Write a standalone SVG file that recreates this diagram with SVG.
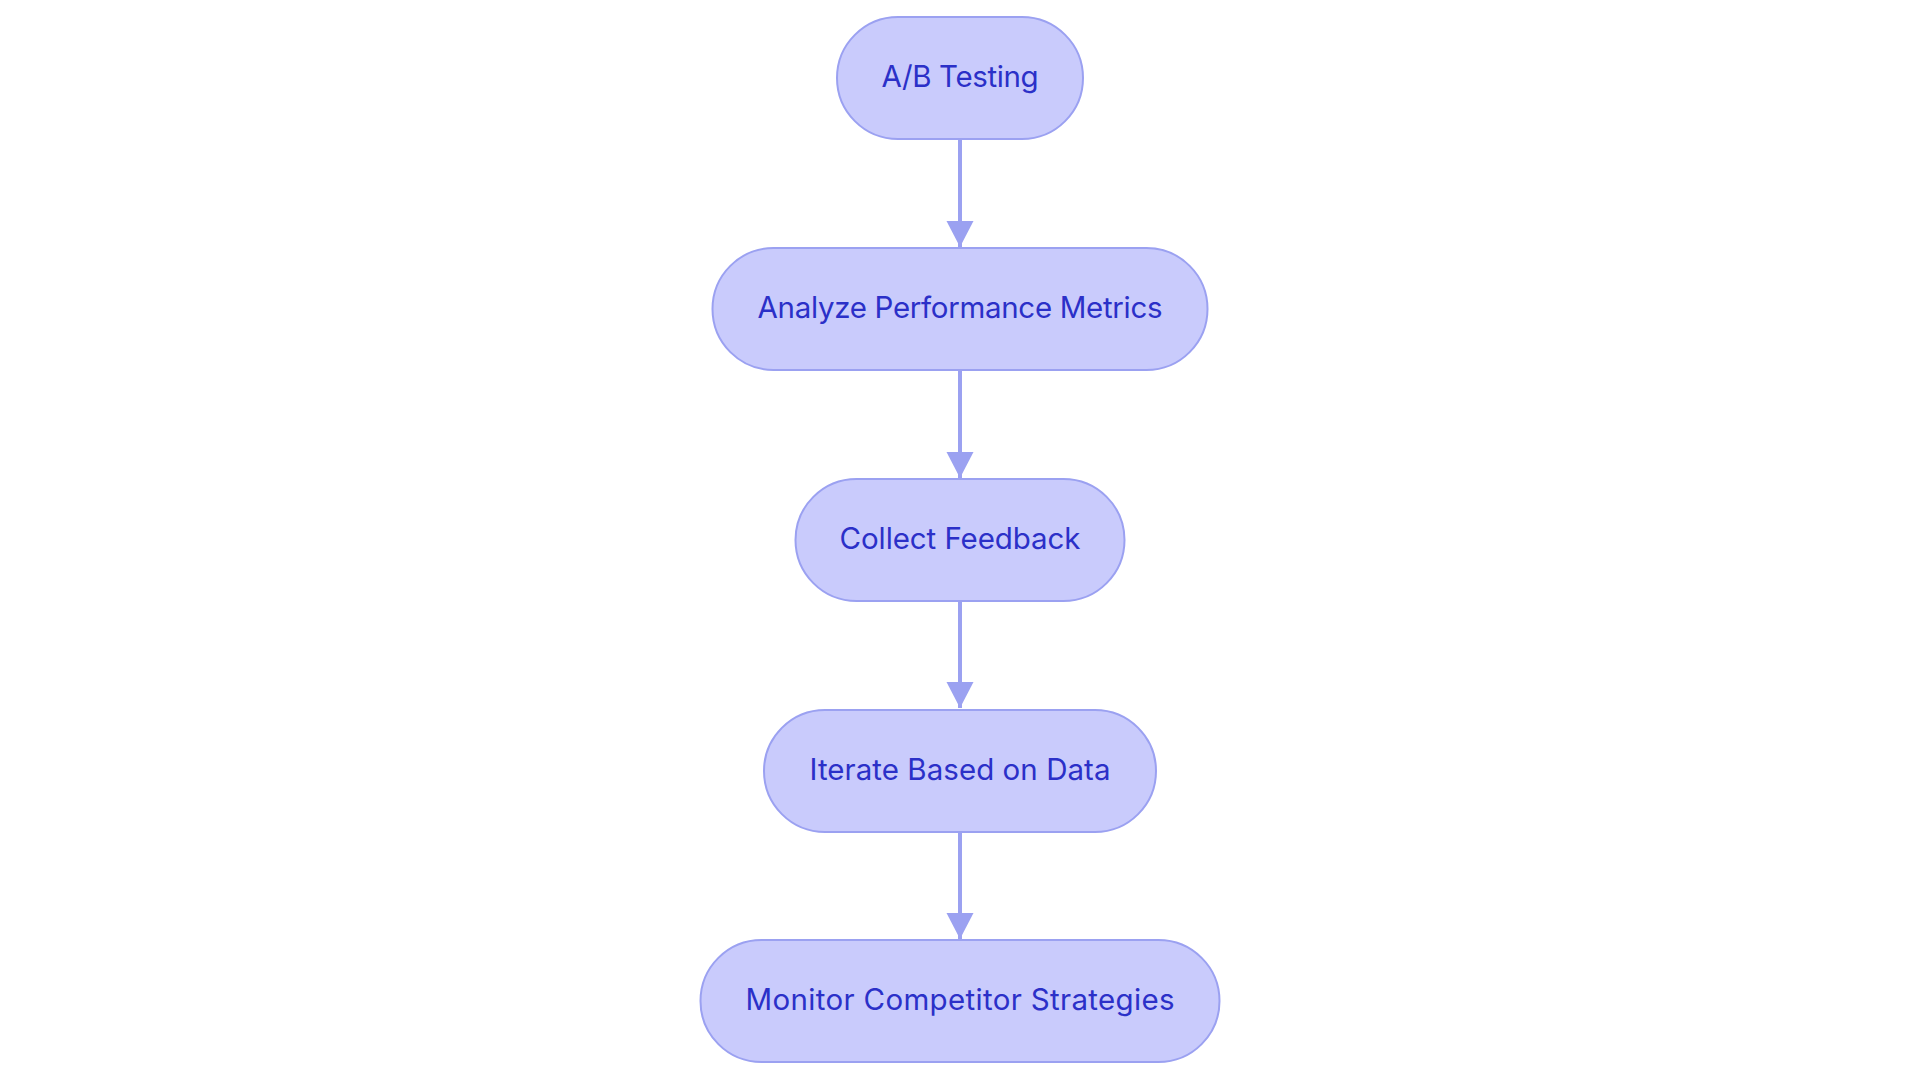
<svg xmlns="http://www.w3.org/2000/svg" width="1920" height="1083" viewBox="0 0 1920 1083">
<defs>
<style>
.node rect{fill:#c9cbfc;stroke:#9ba1f1;stroke-width:2}
.node text{font-family:Inter,"Noto Sans","Liberation Sans",sans-serif;font-size:29.5px;fill:#2b30c8;text-anchor:middle}
.edge{stroke:#9ba1f1;stroke-width:4;fill:none}
</style>
<marker id="arrow" markerUnits="userSpaceOnUse" markerWidth="28" markerHeight="28" refX="26" refY="13.5" orient="auto">
<path d="M0,0 L26,13.5 L0,27 Z" fill="#9ba1f1"/>
</marker>
</defs>
<rect width="1920" height="1083" fill="#ffffff"/>
<g id="connectors">
<line class="edge" x1="960" y1="139" x2="960" y2="247" marker-end="url(#arrow)"/>
<line class="edge" x1="960" y1="370" x2="960" y2="478" marker-end="url(#arrow)"/>
<line class="edge" x1="960" y1="601" x2="960" y2="708" marker-end="url(#arrow)"/>
<line class="edge" x1="960" y1="832" x2="960" y2="939" marker-end="url(#arrow)"/>
</g>
<g id="node-ab" class="node">
<rect x="837" y="17" width="246" height="122" rx="61"/>
<text x="960" y="87" textLength="157" lengthAdjust="spacing">A/B Testing</text>
</g>
<g id="node-analyze" class="node">
<rect x="712.5" y="248" width="495" height="122" rx="61"/>
<text x="960" y="318" textLength="405" lengthAdjust="spacing">Analyze Performance Metrics</text>
</g>
<g id="node-collect" class="node">
<rect x="795.5" y="479" width="329" height="122" rx="61"/>
<text x="960" y="549" textLength="241" lengthAdjust="spacing">Collect Feedback</text>
</g>
<g id="node-iterate" class="node">
<rect x="764" y="710" width="392" height="122" rx="61"/>
<text x="960" y="780" textLength="301" lengthAdjust="spacing">Iterate Based on Data</text>
</g>
<g id="node-monitor" class="node">
<rect x="700.5" y="940" width="519" height="122" rx="61"/>
<text x="960" y="1010" textLength="429" lengthAdjust="spacing">Monitor Competitor Strategies</text>
</g>
</svg>
